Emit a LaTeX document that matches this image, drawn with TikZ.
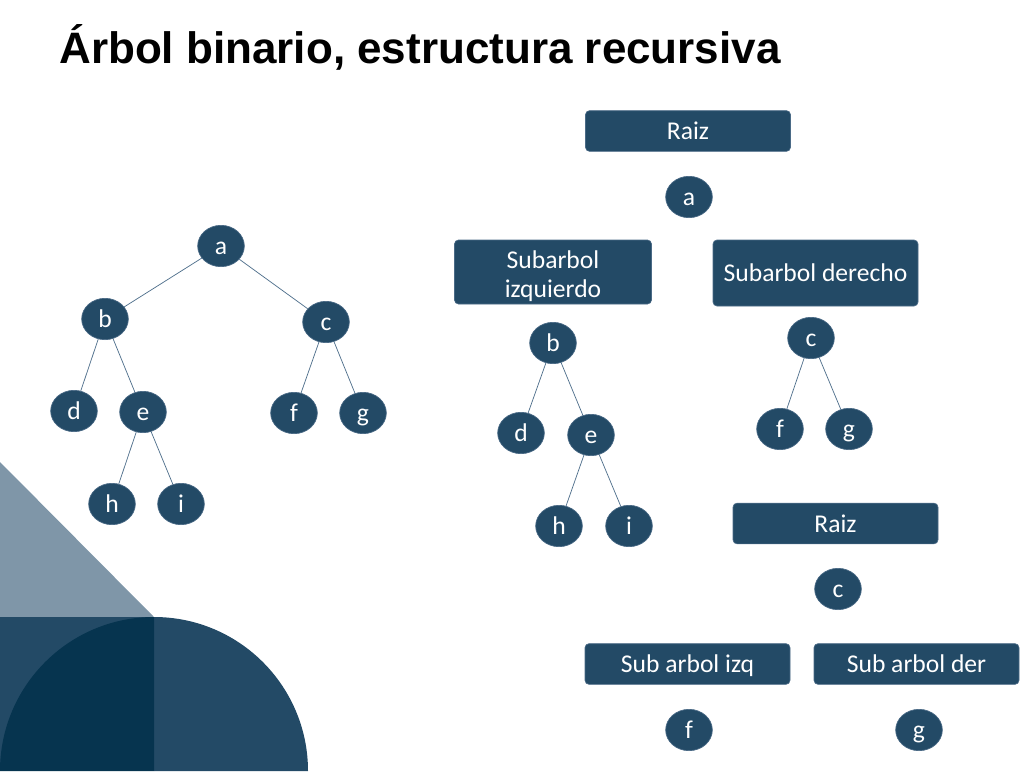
\documentclass[tikz,border=0pt]{standalone}
\usepackage{fontspec}
\usetikzlibrary{shapes.geometric}
\newfontfamily\carlitofont{Carlito}
\newfontfamily\titlefont{Liberation Sans}
\definecolor{navy}{HTML}{234A66}
\definecolor{navyedge}{HTML}{4A6A86}
\definecolor{deepnavy}{HTML}{06344F}
\definecolor{paleblue}{HTML}{7F96A8}
\definecolor{linkcol}{HTML}{50708C}
\begin{document}
\begin{tikzpicture}[x=0.75pt,y=-0.75pt,
  lbltext/.style={font=\carlitofont\fontsize{19.2}{22}\selectfont, text=white, inner sep=0pt},
  lbl/.style={lbltext, text height=14pt, text depth=1pt},
  leaf/.style={lbl, ellipse, fill=navy, draw=navyedge, line width=0.5pt,
    minimum width=35pt, minimum height=31pt},
  boxshape/.style={rectangle, rounded corners=3pt, fill=navy, draw=navyedge,
    line width=0.5pt, minimum height=30.5pt},
  tag/.style={lbl, boxshape},
  link/.style={draw=linkcol, line width=0.55pt}]
\useasboundingbox (0,0) rectangle (1028,771);
% background decoration
\fill[paleblue] (0,462) -- (154,617) -- (0,617) -- cycle;
\fill[navy] (0,617) rectangle (154,771);
\fill[navy] (154,771) -- (154,617) arc[start angle=90,end angle=0,radius=154*0.75pt] -- cycle;
\fill[deepnavy] (154,771) -- (154,617) arc[start angle=90,end angle=180,radius=154*0.75pt] -- cycle;
% title
\node[anchor=base west, inner sep=0pt, font=\titlefont\bfseries\fontsize{33}{38}\selectfont] (title) at (59,63) {Árbol binario, estructura recursiva};
% left tree
\node[leaf] (la) at (221,246) {a};
\node[leaf] (lb) at (105,319) {b};
\node[leaf] (lc) at (326,322) {c};
\node[leaf] (ld) at (74,411) {d};
\node[leaf] (le) at (143,412) {e};
\node[leaf] (lf) at (294,413) {f};
\node[leaf] (lg) at (363,413) {g};
\node[leaf] (lh) at (112,504) {h};
\node[leaf] (li) at (181,504) {i};
\path[link] (la) -- (lb);
\path[link] (la) -- (lc);
\path[link] (lb) -- (ld);
\path[link] (lb) -- (le);
\path[link] (le) -- (lh);
\path[link] (le) -- (li);
\path[link] (lc) -- (lf);
\path[link] (lc) -- (lg);
% right structure
\node[tag, minimum width=153.75pt] (raiz1) at (688,131) {Raiz};
\node[leaf] (ra) at (689,197) {a};
\node[boxshape, minimum width=147.75pt, minimum height=48pt] (subizq) at (553,272) {};
\node[lbltext, align=center] (subizqtext) at (553,276) {Subarbol\\izquierdo};
\node[tag, minimum width=153.75pt, minimum height=49.5pt] (subder) at (815.5,273) {Subarbol derecho};
\node[leaf] (rb) at (553,343) {b};
\node[leaf] (rc) at (811,338) {c};
\node[leaf] (rd) at (521,433) {d};
\node[leaf] (re) at (591,435) {e};
\node[leaf] (rf) at (780,429) {f};
\node[leaf] (rg) at (849,429) {g};
\node[leaf] (rh) at (559,526) {h};
\node[leaf] (ri) at (629,526) {i};
\path[link] (rb) -- (rd);
\path[link] (rb) -- (re);
\path[link] (re) -- (rh);
\path[link] (re) -- (ri);
\path[link] (rc) -- (rf);
\path[link] (rc) -- (rg);
\node[tag, minimum width=153.75pt] (raiz2) at (835.5,523.5) {Raiz};
\node[leaf] (sc) at (838,589) {c};
\node[tag, minimum width=153.75pt] (sizq) at (687.5,664) {Sub arbol izq};
\node[tag, minimum width=153.75pt] (sder) at (916.5,664) {Sub arbol der};
\node[leaf] (sf) at (689,730) {f};
\node[leaf] (sg) at (919,730) {g};
\end{tikzpicture}
\end{document}
